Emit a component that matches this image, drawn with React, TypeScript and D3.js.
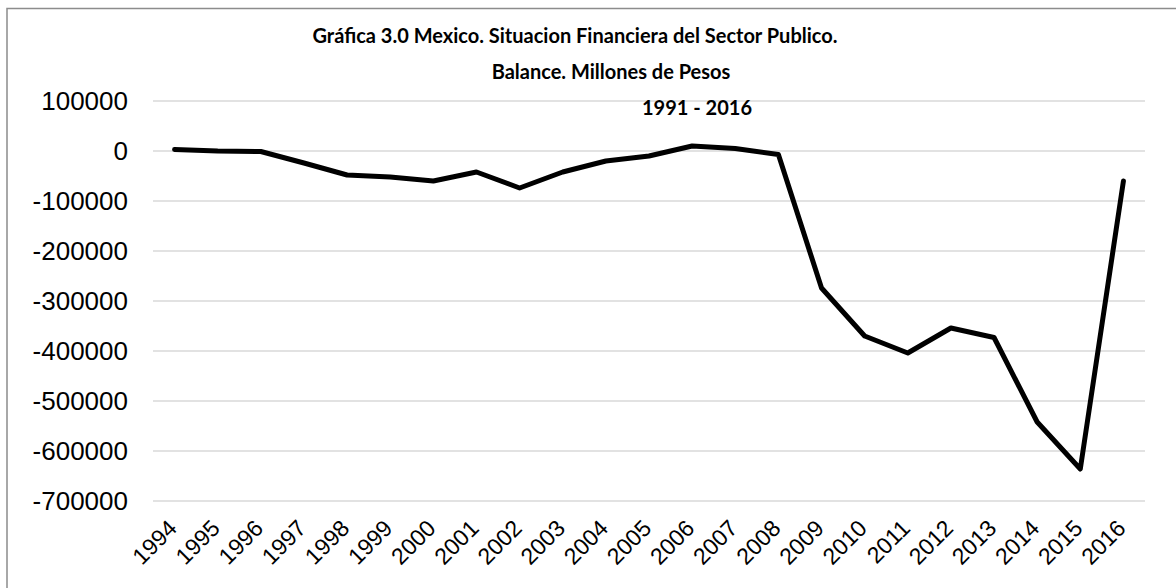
import { useEffect, useRef } from "react";
import * as d3 from "d3";

const years = [
  "1994", "1995", "1996", "1997", "1998", "1999", "2000", "2001", "2002",
  "2003", "2004", "2005", "2006", "2007", "2008", "2009", "2010", "2011",
  "2012", "2013", "2014", "2015", "2016",
];

const balance = [
  3000, 0, -1000, -24000, -48000, -52000, -60000, -42000, -74000,
  -42000, -20000, -10000, 10000, 5000, -7000, -274000, -370000, -404000,
  -354000, -373000, -542000, -636000, -60000,
];

const yTicks = [100000, 0, -100000, -200000, -300000, -400000, -500000, -600000, -700000];

const titleLines = [
  "Gráfica 3.0 Mexico. Situacion Financiera del Sector Publico.",
  "Balance. Millones de Pesos",
  "1991 - 2016",
];
// horizontal centre of each title line, as placed in the original
const titleCenters = [575, 611, 697];

export default function App() {
  const svgRef = useRef<SVGSVGElement>(null);
  const width = 1176;
  const height = 588;

  useEffect(() => {
    if (!svgRef.current) return;
    const margin = { top: 101, right: 31, bottom: 87, left: 153 };

    const svg = d3.select(svgRef.current);
    svg.selectAll("*").remove();

    svg
      .append("rect")
      .attr("width", width)
      .attr("height", height)
      .attr("fill", "white");

    // chart frame (cut off at right and bottom in the original)
    svg
      .append("rect")
      .attr("x", 7)
      .attr("y", 8.5)
      .attr("width", width + 20)
      .attr("height", height + 20)
      .attr("fill", "none")
      .attr("stroke", "#8c8c8c")
      .attr("stroke-width", 1.5);

    const xScale = d3
      .scaleBand()
      .domain(years)
      .range([margin.left, width - margin.right]);

    const yScale = d3
      .scaleLinear()
      .domain([-700000, 100000])
      .range([height - margin.bottom, margin.top]);

    // grid lines
    svg
      .append("g")
      .selectAll("line")
      .data(yTicks)
      .enter()
      .append("line")
      .attr("x1", margin.left)
      .attr("x2", width - margin.right)
      .attr("y1", (d) => yScale(d))
      .attr("y2", (d) => yScale(d))
      .attr("stroke", "#d9d9d9")
      .attr("stroke-width", 1.5);

    // y labels
    svg
      .append("g")
      .selectAll("text")
      .data(yTicks)
      .enter()
      .append("text")
      .attr("x", margin.left - 25)
      .attr("y", (d) => yScale(d))
      .attr("dy", "0.35em")
      .attr("text-anchor", "end")
      .attr("font-family", "'Liberation Sans', Arial, sans-serif")
      .attr("font-size", 26)
      .attr("fill", "#000")
      .text((d) => String(d));

    // x labels, rotated
    svg
      .append("g")
      .selectAll("text")
      .data(years)
      .enter()
      .append("text")
      .attr(
        "transform",
        (d) =>
          `translate(${(xScale(d) || 0) + xScale.bandwidth() / 2 - 2},${height - margin.bottom + 23}) rotate(-45)`
      )
      .attr("dy", "0.35em")
      .attr("text-anchor", "end")
      .attr("font-family", "'Liberation Sans', Arial, sans-serif")
      .attr("font-size", 23)
      .attr("fill", "#000")
      .text((d) => d);

    const line = d3
      .line<number>()
      .x((_, i) => (xScale(years[i]) || 0) + xScale.bandwidth() / 2)
      .y((d) => yScale(d));

    svg
      .append("path")
      .datum(balance)
      .attr("fill", "none")
      .attr("stroke", "#000")
      .attr("stroke-width", 5)
      .attr("stroke-linejoin", "round")
      .attr("stroke-linecap", "round")
      .attr("d", line);

    // title
    titleLines.forEach((t, i) => {
      svg
        .append("text")
        .attr("x", titleCenters[i])
        .attr("y", 43 + i * 36)
        .attr("text-anchor", "middle")
        .attr("font-family", "Lato, 'Open Sans', sans-serif")
        .attr("font-weight", "bold")
        .attr("font-size", 20)
        .attr("fill", "#000")
        .text(t);
    });
  }, []);

  return (
    <svg
      ref={svgRef}
      width={width}
      height={height}
      style={{ position: "absolute", left: 0, top: 0, display: "block" }}
    />
  );
}
